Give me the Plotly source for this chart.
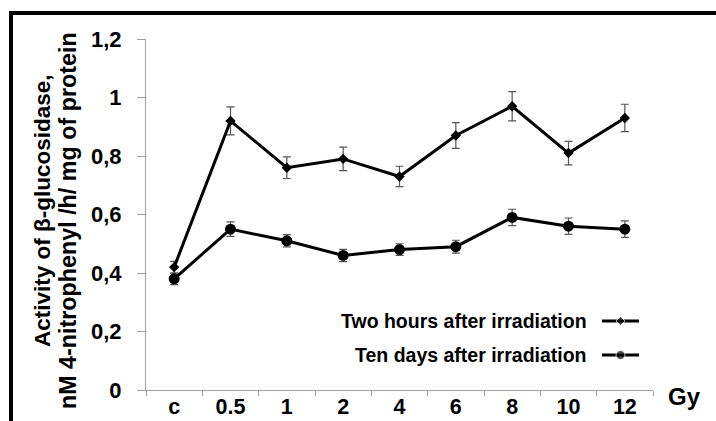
import plotly.graph_objects as go

categories = ["c", "0.5", "1", "2", "4", "6", "8", "10", "12"]
two_hours = [0.42, 0.92, 0.76, 0.79, 0.73, 0.87, 0.97, 0.81, 0.93]
two_hours_err = [0.02, 0.048, 0.037, 0.04, 0.035, 0.044, 0.05, 0.04, 0.047]
ten_days = [0.38, 0.55, 0.51, 0.46, 0.48, 0.49, 0.59, 0.56, 0.55]
ten_days_err = [0.02, 0.025, 0.021, 0.021, 0.02, 0.022, 0.028, 0.028, 0.028]
y_tickvals = [0, 0.2, 0.4, 0.6, 0.8, 1.0, 1.2]
y_ticktext = ["0", "0,2", "0,4", "0,6", "0,8", "1", "1,2"]
series_names = ["Two hours after irradiation", "Ten days after irradiation"]
y_title_lines = ["Activity of β-glucosidase,", "nM 4-nitrophenyl /h/ mg of protein"]

FONT = "Liberation Sans, Arial, sans-serif"
W, H = 716, 421
L, R, T, B = 146, 63, 39, 31
pw, ph = W - L - R, H - T - B

def px(xp):
    return (xp - L) / pw

def py(yp):
    return (H - B - yp) / ph

fig = go.Figure()
fig.add_trace(go.Scatter(
    x=categories, y=two_hours, mode="lines+markers", name=series_names[0],
    line=dict(color="black", width=3),
    marker=dict(symbol="diamond", size=8, color="black"),
    error_y=dict(type="data", array=two_hours_err, color="#555555", thickness=1.2, width=4),
    showlegend=False))
fig.add_trace(go.Scatter(
    x=categories, y=ten_days, mode="lines+markers", name=series_names[1],
    line=dict(color="black", width=3),
    marker=dict(symbol="circle", size=11, color="black"),
    error_y=dict(type="data", array=ten_days_err, color="#555555", thickness=1.2, width=4),
    showlegend=False))

# custom legend (symbol on the right of the text)
legend_rows = [py(321), py(355)]
legend_symbols = [("diamond", 7), ("circle", 9)]
for name, yrow, (sym, sz) in zip(series_names, legend_rows, legend_symbols):
    fig.add_trace(go.Scatter(
        x=[px(602), px(620.5), px(639)], y=[yrow, yrow, yrow],
        xaxis="x2", yaxis="y2", mode="lines+markers",
        line=dict(color="black", width=3),
        marker=dict(symbol=sym, size=[0, sz, 0], color="black"),
        showlegend=False, hoverinfo="skip"))
    fig.add_annotation(x=px(589), y=yrow, xref="paper", yref="paper",
                       text="<b>" + name + "</b>", showarrow=False,
                       xanchor="right", yanchor="middle",
                       font=dict(family=FONT, size=19.5, color="black"))

fig.update_layout(
    width=W, height=H,
    margin=dict(l=L, r=R, t=T, b=B, autoexpand=False),
    paper_bgcolor="white", plot_bgcolor="white",
    font=dict(family=FONT, size=20, color="black"),
    xaxis=dict(type="category", categoryorder="array", categoryarray=categories,
               range=[-0.5, 8.5], showgrid=False, zeroline=False, automargin=False,
               showline=True, linecolor="#a0a0a0", linewidth=1,
               ticks="outside", tickson="boundaries", ticklen=5, tickcolor="#a0a0a0",
               ticklabelstandoff=-3,
               tickfont=dict(family=FONT, size=21.5, color="black", weight="bold")),
    yaxis=dict(range=[0, 1.2], tickvals=y_tickvals, ticktext=y_ticktext,
               showgrid=False, zeroline=False, automargin=False,
               showline=True, linecolor="#a0a0a0", linewidth=1,
               ticks="outside", ticklen=8, tickcolor="#a0a0a0",
               ticklabelstandoff=11,
               tickfont=dict(family=FONT, size=22, color="black", weight="bold")),
    xaxis2=dict(range=[0, 1], overlaying="x", visible=False, anchor="y2", automargin=False),
    yaxis2=dict(range=[0, 1], overlaying="y", visible=False, anchor="x2", automargin=False),
)

# y axis title (two lines)
for line_text, (xc, yc, fs) in zip(y_title_lines, [(42, 211, 22.5), (68, 221, 23.3)]):
    fig.add_annotation(x=px(xc), y=py(yc), xref="paper", yref="paper",
                       text="<b>" + line_text + "</b>",
                       textangle=-90, showarrow=False, xanchor="center", yanchor="middle",
                       font=dict(family=FONT, size=fs, color="black"))
# x axis unit label
fig.add_annotation(x=px(684), y=py(396), xref="paper", yref="paper",
                   text="<b>Gy</b>", showarrow=False, xanchor="center", yanchor="middle",
                   font=dict(family=FONT, size=24, color="black"))

# image frame (top and left edges visible)
fig.add_shape(type="line", xref="paper", yref="paper", x0=px(11), x1=px(11),
              y0=py(430), y1=py(13), line=dict(color="black", width=4))
fig.add_shape(type="line", xref="paper", yref="paper", x0=px(9), x1=px(730),
              y0=py(13), y1=py(13), line=dict(color="black", width=4))

fig.write_html("out.html", config={"displayModeBar": False},
               post_script="document.body.style.margin='0';document.body.style.overflow='hidden';")
